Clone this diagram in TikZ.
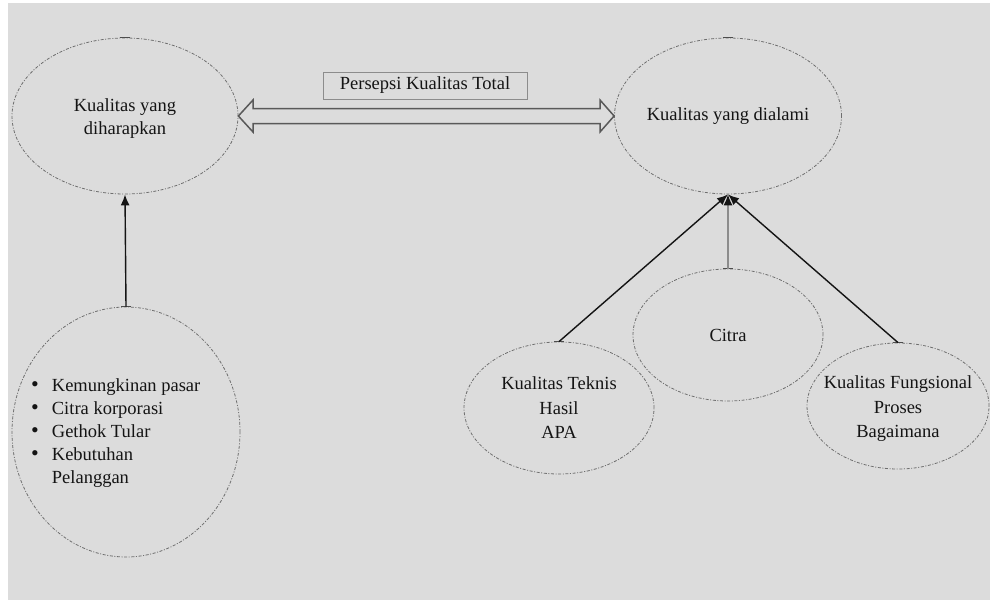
\documentclass[tikz,border=0pt]{standalone}
\usepackage{fontspec}
\setmainfont{Liberation Serif}
\usetikzlibrary{shapes.geometric,arrows.meta}
\definecolor{paper}{HTML}{DCDCDC}
\definecolor{ink}{HTML}{141414}
\definecolor{rim}{HTML}{6E6E6E}
\newcommand{\blt}{\smash{\fontsize{22}{23}\selectfont\textbullet}}
\tikzset{
  oval/.style={ellipse, draw=rim, line width=0.8pt, inner sep=0pt,
    dash pattern=on 3pt off 1.6pt on 1pt off 1.6pt},
  txt/.style={text=ink, align=center, inner sep=0pt,
    font=\fontsize{18.5}{23}\selectfont},
  tall/.style={font=\fontsize{18.5}{24.5}\selectfont},
  topdash/.style={draw=rim!70!black, line width=1.2pt},
  link/.style={draw=ink, line width=1.4pt,
    -{Latex[length=11pt,width=9pt,color=ink]}},
  dbl/.style={draw=black!65, line width=1.5pt, line join=miter},
  labelbox/.style={draw=black!45, line width=1pt, inner sep=0pt,
    minimum width=204pt, minimum height=27pt, text=ink,
    font=\fontsize{18.5}{23}\selectfont}
}
\begin{document}
\begin{tikzpicture}[x=1pt,y=-1pt]
  % page and grey sheet
  \fill[white] (0,0) rectangle (990,600);
  \fill[paper] (8,3) rectangle (990,600);
  \useasboundingbox (0,0) rectangle (990,600);

  % ellipses
  \node[oval, minimum width=226pt, minimum height=156pt] (tl) at (125,116) {};
  \node[oval, minimum width=227pt, minimum height=156pt] (tr) at (728,116) {};
  \node[oval, minimum width=228pt, minimum height=250pt] (bl) at (126,432) {};
  \node[oval, minimum width=190pt, minimum height=132pt] (cit) at (728,335) {};
  \node[oval, minimum width=190pt, minimum height=132pt] (tek) at (559,408) {};
  \node[oval, minimum width=182pt, minimum height=126pt] (fun) at (898,406) {};

  % darker dash where each outline starts
  \foreach \e in {tl,tr,bl,cit,tek,fun}
    \draw[topdash] ([xshift=-5pt]\e.north) -- ([xshift=5pt]\e.north);

  % texts
  \node[txt] (tlt) at (125,119) {Kualitas yang\\diharapkan};
  \node[txt] (trt) at (tr) {Kualitas yang dialami};
  \node[txt] (citt) at (cit) {Citra};
  \node[txt, tall] (tekt) at (tek) {Kualitas Teknis\\Hasil\\APA};
  \node[txt, tall] (funt) at (898,409) {Kualitas Fungsional\\Proses\\Bagaimana};
  \node[txt, align=left, anchor=north west] (blt) at (31,375)
    {\begin{tabular}{@{}l@{\hspace{13pt}}l@{}}
      \blt & Kemungkinan pasar\\
      \blt & Citra korporasi\\
      \blt & Gethok Tular\\
      \blt & Kebutuhan\\
           & Pelanggan
     \end{tabular}};

  % label box
  \node[labelbox] (pkt) at (425,85.5) {Persepsi Kualitas Total};

  % hollow two-way arrow
  \draw[dbl] (tl.east) -- (253,100) -- (253,108.5) -- (600,108.5) -- (600,100)
    -- (tr.west) -- (600,132) -- (600,123.5) -- (253,123.5) -- (253,132) -- cycle;

  % connectors
  \draw[link] (bl.north) -- (tl.south);
  \draw[link] (tek.north) -- (tr.south);
  \draw[link] (fun.north) -- (tr.south);
  \draw[link, draw=black!45] (cit.north) -- (tr.south);
\end{tikzpicture}
\end{document}
